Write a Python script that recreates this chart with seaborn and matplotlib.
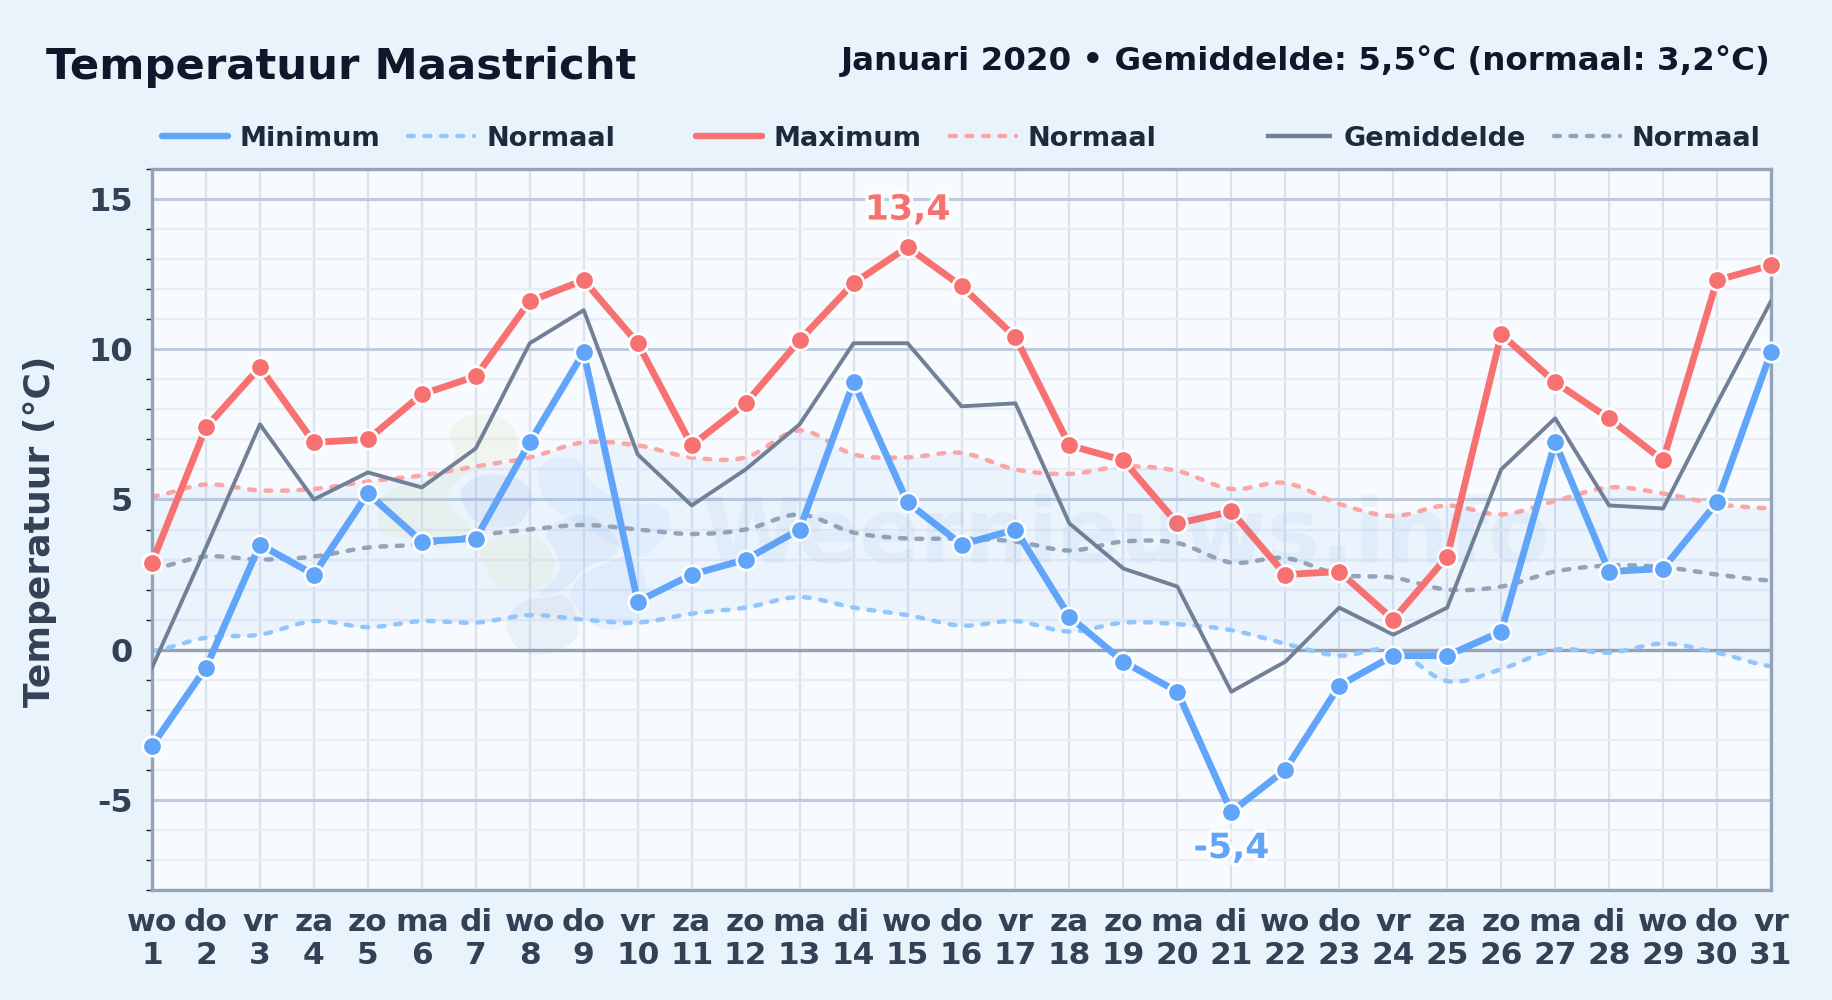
import numpy as np
import pandas as pd
import seaborn as sns
import matplotlib
matplotlib.use("Agg")
import matplotlib.pyplot as plt
import matplotlib.patheffects as pe
from matplotlib.lines import Line2D
from matplotlib.patches import Polygon
from matplotlib.ticker import MultipleLocator

days = list(range(1, 32))
weekdays = ["wo","do","vr","za","zo","ma","di","wo","do","vr","za","zo","ma","di","wo","do",
            "vr","za","zo","ma","di","wo","do","vr","za","zo","ma","di","wo","do","vr"]
t_min = [-3.2,-0.6,3.5,2.5,5.2,3.6,3.7,6.9,9.9,1.6,2.5,3.0,4.0,8.9,4.9,3.5,4.0,1.1,-0.4,-1.4,
         -5.4,-4.0,-1.2,-0.2,-0.2,0.6,6.9,2.6,2.7,4.9,9.9]
t_max = [2.9,7.4,9.4,6.9,7.0,8.5,9.1,11.6,12.3,10.2,6.8,8.2,10.3,12.2,13.4,12.1,10.4,6.8,6.3,4.2,
         4.6,2.5,2.6,1.0,3.1,10.5,8.9,7.7,6.3,12.3,12.8]
t_mean = [-0.6,3.4,7.5,5.0,5.9,5.4,6.7,10.2,11.3,6.5,4.8,6.0,7.5,10.2,10.2,8.1,8.2,4.2,2.7,2.1,
          -1.4,-0.4,1.4,0.5,1.4,6.0,7.7,4.8,4.7,8.2,11.6]
norm_max = [5.1,5.5,5.3,5.35,5.6,5.8,6.1,6.4,6.9,6.8,6.4,6.4,7.3,6.5,6.4,6.55,6.0,5.85,6.1,5.95,
            5.35,5.55,4.85,4.45,4.8,4.5,4.95,5.4,5.2,4.85,4.7]
norm_mean = [2.7,3.1,3.0,3.1,3.4,3.5,3.8,4.0,4.15,4.0,3.85,4.0,4.5,3.9,3.7,3.7,3.6,3.3,3.6,3.55,
             2.9,3.05,2.5,2.4,2.0,2.1,2.6,2.8,2.75,2.5,2.3]
norm_min = [-0.05,0.4,0.5,0.95,0.75,0.95,0.9,1.15,1.0,0.9,1.2,1.4,1.75,1.4,1.15,0.8,0.95,0.6,0.9,
            0.85,0.65,0.2,-0.2,0.0,-1.05,-0.65,0.0,-0.1,0.2,-0.1,-0.55]

W, H = 1832, 1000
BG = "#E8F3FC"
C_MIN, C_MAX, C_MEAN = "#60A5FA", "#F87171", "#718096"
C_NMIN, C_NMAX, C_NMEAN = "#93C5FD", "#FCA5A5", "#94A3B8"
DASH = (0, (1.3, 2.41))

sns.set_theme(style="white")
plt.rcParams["font.family"] = ["DejaVu Sans"]

fig = plt.figure(figsize=(W / 100, H / 100), dpi=100, facecolor=BG)
L, R, T, B = 152, 1771, 169, 890
ax = fig.add_axes([L / W, 1 - B / H, (R - L) / W, (B - T) / H])
ax.set_facecolor("#F7FAFE")


def smooth(x, y, n=12):
    """Curved line through the daily values (Catmull-Rom rendering, like the original)."""
    x = np.asarray(x, float); y = np.asarray(y, float)
    p = np.r_[y[0], y, y[-1]]
    xs, ys = [], []
    for i in range(len(x) - 1):
        t = np.linspace(0, 1, n, endpoint=False)
        a, b, c, d = p[i], p[i + 1], p[i + 2], p[i + 3]
        ys.append(b + 0.5 * t * (c - a + t * (2 * a - 5 * b + 4 * c - d + t * (3 * (b - c) + d - a))))
        xs.append(x[i] + t)
    return np.r_[np.concatenate(xs), x[-1]], np.r_[np.concatenate(ys), y[-1]]


# grid
ax.set_xlim(1, 31)
ax.set_ylim(-8, 16)
ax.yaxis.set_major_locator(MultipleLocator(5))
ax.yaxis.set_minor_locator(MultipleLocator(1))
ax.set_xticks(days)
ax.set_axisbelow(True)
ax.grid(True, which="minor", axis="y", color="#E8EDF4", lw=1.7)
ax.grid(True, which="major", axis="y", color="#BFCBDD", lw=2.2)
ax.grid(True, which="major", axis="x", color="#DBE2EC", lw=1.6)

# normal band
xs, ymax_s = smooth(days, norm_max)
_, ymin_s = smooth(days, norm_min)
_, ymean_s = smooth(days, norm_mean)
ax.fill_between(xs, ymin_s, ymax_s, color="#60A5FA", alpha=0.075, lw=0, zorder=1)


# watermark logo (decorative background shapes, outlines given in crop pixels)
def blob(pts, color, alpha, n=10):
    pts = np.asarray(pts, float)
    m = len(pts)
    t = np.linspace(0, 1, n, endpoint=False)[:, None]
    out = []
    for i in range(m):
        a, b, c, d = pts[i - 1], pts[i], pts[(i + 1) % m], pts[(i + 2) % m]
        out.append(b + 0.5 * t * (c - a + t * (2 * a - 5 * b + 4 * c - d + t * (3 * (b - c) + d - a))))
    q = np.vstack(out)
    q = np.c_[(360 + q[:, 0] / 3) / W, 1 - (400 + q[:, 1] / 3) / H]
    ax.add_patch(Polygon(q, closed=True, transform=fig.transFigure, fc=color, ec="none",
                         alpha=alpha, zorder=1.2))


blob([(270,90),(340,45),(430,55),(470,110),(460,170),(340,210),(270,270),(275,330),(330,380),
      (250,440),(150,420),(70,400),(55,330),(90,270),(200,240),(280,180)], "#C8DC90", 0.13)
blob([(360,450),(420,405),(520,410),(580,470),(570,540),(500,570),(420,565),(380,510)], "#C8DC90", 0.13)
blob([(310,260),(370,225),(470,235),(515,280),(510,320),(470,375),(390,380),(330,350),(305,300)],
     "#7AA5D8", 0.12)
blob([(535,210),(580,175),(650,180),(700,250),(800,310),(900,315),(930,370),(880,450),(830,470),
      (740,420),(600,340),(560,310),(540,260)], "#7CBCFF", 0.10)
blob([(560,400),(620,355),(700,350),(770,420),(760,470),(680,500),(620,560),(540,585),(600,500)],
     "#7AA5D8", 0.10)
blob([(660,530),(740,490),(820,470),(860,560),(820,660),(760,690),(690,670),(650,620),(630,590)],
     "#7CBCFF", 0.11)
blob([(440,660),(480,610),(560,590),(620,590),(650,650),(650,710),(600,750),(520,765),(470,740),
      (445,700)], "#7A9CC0", 0.10)
fig.text(702 / W, 1 - 563 / H, "Weernieuws.info", color="#3B82C4", alpha=0.06, fontsize=64.7,
         fontweight="bold", ha="left", va="baseline", zorder=1.3)

ax.axhline(0, color="#94A3B8", lw=2.4, zorder=1.5)


def normal_line(y, color, label):
    sns.lineplot(x=xs, y=y, ax=ax, color=color, lw=3.2, linestyle=DASH,
                 dash_capstyle="round", estimator=None, errorbar=None, zorder=2,
                 clip_on=True, label=label, legend=False)


normal_line(ymin_s, C_NMIN, "Normaal")
normal_line(ymax_s, C_NMAX, "Normaal")
normal_line(ymean_s, C_NMEAN, "Normaal")

sns.lineplot(x=days, y=t_mean, ax=ax, color=C_MEAN, lw=2.8, estimator=None, errorbar=None,
             zorder=3, legend=False)
for y, c, z in [(t_max, C_MAX, 4), (t_min, C_MIN, 5)]:
    sns.lineplot(x=days, y=y, ax=ax, color=c, lw=4.9, marker="o", markersize=14,
                 markeredgecolor="white", markeredgewidth=1.9, estimator=None, errorbar=None,
                 zorder=z, clip_on=False, legend=False)

# extreme labels
halo = [pe.withStroke(linewidth=5, foreground="white")]
imax = int(np.argmax(t_max)); imin = int(np.argmin(t_min))
ax.annotate(f"{t_max[imax]:.1f}".replace(".", ","), (days[imax], t_max[imax]), xytext=(0, 27),
            textcoords="offset points", ha="center", va="center", fontsize=25,
            fontweight="bold", color=C_MAX, path_effects=halo, zorder=6)
ax.annotate(f"{t_min[imin]:.1f}".replace(".", ","), (days[imin], t_min[imin]), xytext=(0, -26),
            textcoords="offset points", ha="center", va="center", fontsize=25,
            fontweight="bold", color=C_MIN, path_effects=halo, zorder=6)

# axes styling
for s in ax.spines.values():
    s.set_color("#94A3B8"); s.set_linewidth(2.4); s.set_zorder(2.5)
ax.set_xticklabels([f"{d}\n{n}" for d, n in zip(weekdays, days)], fontsize=22.5, fontweight="bold",
                   color="#334155", linespacing=1.15)
ax.tick_params(axis="x", length=0, pad=13)
ax.tick_params(axis="y", which="major", length=0, pad=13.5, labelsize=23, labelcolor="#334155")
ax.tick_params(axis="y", which="minor", length=4, width=1, color="#222222", left=True)
ax.set_yticks([-5, 0, 5, 10, 15])
ax.set_yticklabels(["-5", "0", "5", "10", "15"], fontweight="bold")
ax.set_xlabel("")
ax.set_ylabel("")
fig.text(40.5 / W, 1 - 531 / H, "Temperatuur (°C)", rotation=90, ha="center", va="center",
         fontsize=26, fontweight="bold", color="#334155")

# titles
fig.text(46 / W, 1 - 79 / H, "Temperatuur Maastricht", fontsize=31.25, fontweight="bold",
         color="#0F172A", ha="left", va="baseline")
fig.text(1771 / W, 1 - 70 / H, "Januari 2020 • Gemiddelde: 5,5°C (normaal: 3,2°C)", fontsize=23.4,
         fontweight="bold", color="#0F172A", ha="right", va="baseline")

# legends
def legend_pair(x_px, solid_color, solid_lw, solid_label, norm_color, cap="round"):
    hs = [Line2D([], [], color=solid_color, lw=solid_lw, solid_capstyle=cap),
          Line2D([], [], color=norm_color, lw=3.2, linestyle=DASH, dash_capstyle="round")]
    leg = fig.legend(handles=hs, labels=[solid_label, "Normaal"], ncol=2, frameon=False,
                     loc="center left", bbox_to_anchor=(x_px / W, 1 - 138.5 / H), borderpad=0,
                     borderaxespad=0, handlelength=2.44, handletextpad=0.44, columnspacing=1.02,
                     prop={"size": 19.5, "weight": "bold"}, labelcolor="#1E293B")
    return leg


legend_pair(162, C_MIN, 4.6, "Minimum", C_NMIN)
legend_pair(696, C_MAX, 4.6, "Maximum", C_NMAX)
legend_pair(1266, C_MEAN, 3.2, "Gemiddelde", C_NMEAN, cap="butt")

fig.savefig("out.png", dpi=100, facecolor=BG)
